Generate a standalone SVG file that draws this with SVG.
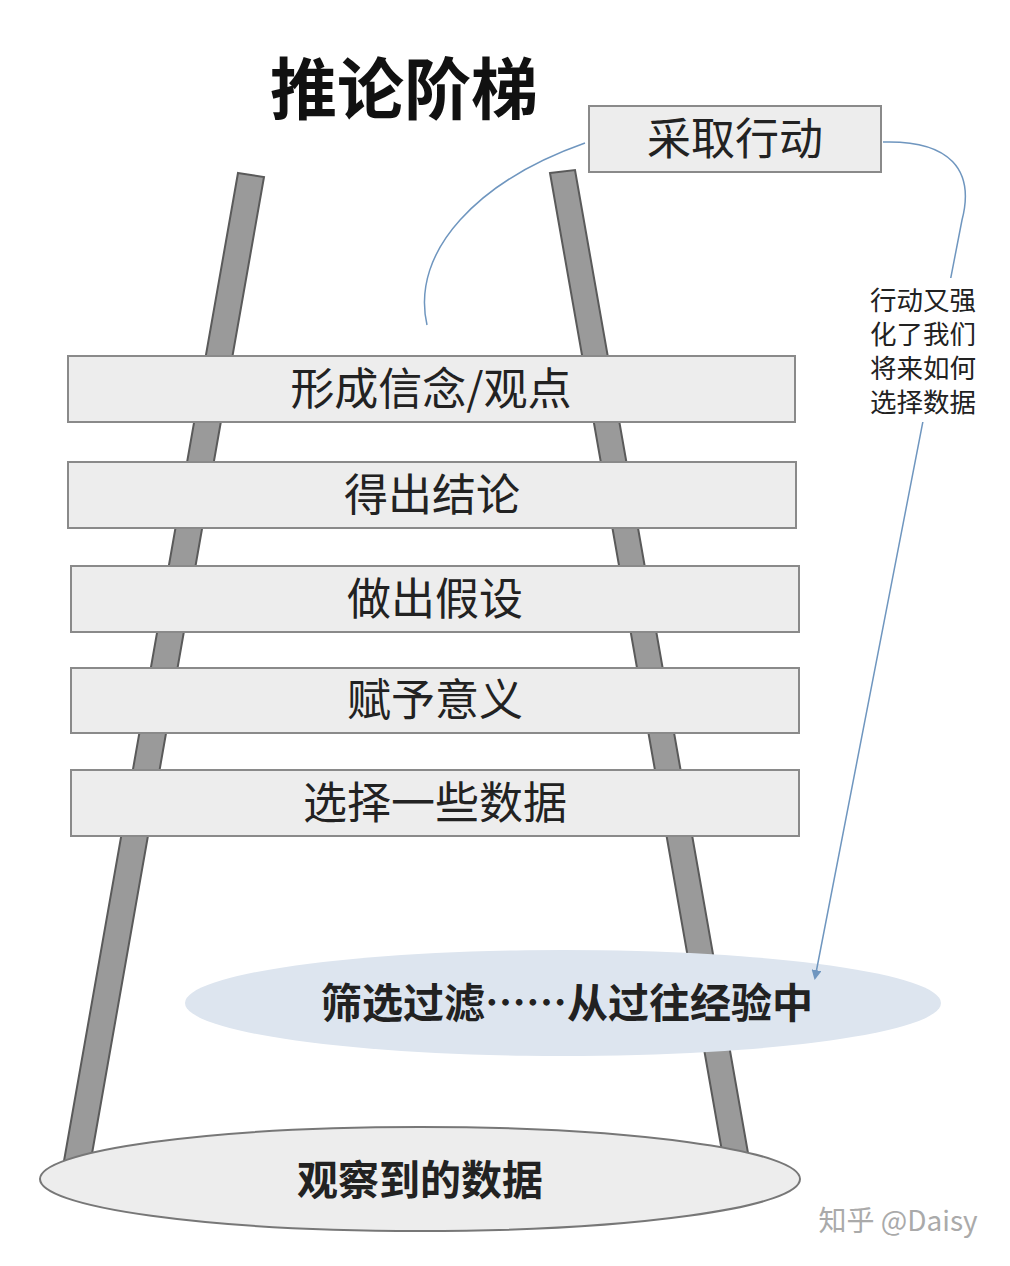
<svg xmlns="http://www.w3.org/2000/svg" width="1010" height="1266" viewBox="0 0 1010 1266">
<defs>
<style>
.rail{fill:#9a9a9a;stroke:#5a5a5a;stroke-width:2}
.rung{fill:#ededed;stroke:#8a8a8a;stroke-width:2}
.t{font-family:"Noto Sans CJK SC","Noto Sans",sans-serif;font-size:44px;fill:#222;text-anchor:middle}
.b{font-weight:bold;font-size:41px}
.s{font-family:"Noto Sans CJK SC",sans-serif;font-size:26.5px;fill:#222;text-anchor:middle}
.c{fill:none;stroke:#6f96bf;stroke-width:1.5}
</style>
<marker id="ah" markerWidth="10" markerHeight="10" refX="8" refY="5" orient="auto" markerUnits="userSpaceOnUse"><path d="M0,0 L10,5 L0,10 Z" fill="#6f96bf"/></marker>
</defs>
<rect width="1010" height="1266" fill="#fff"/>
<text class="t b" x="404" y="114" style="font-size:67px;fill:#111">推论阶梯</text>
<g id="rails">
<polygon class="rail" points="238,173 264,177 90,1165 64,1161"/>
<polygon class="rail" points="550,173 575,170 748,1153 723,1157"/>
</g>
<g id="n_action"><rect class="rung" x="589" y="106" width="292" height="66"/><text class="t" x="735" y="155">采取行动</text></g>
<g id="n1"><rect class="rung" x="68" y="356" width="727" height="66"/><text class="t" x="431" y="405">形成信念/观点</text></g>
<g id="n2"><rect class="rung" x="68" y="462" width="728" height="66"/><text class="t" x="432" y="511">得出结论</text></g>
<g id="n3"><rect class="rung" x="71" y="566" width="728" height="66"/><text class="t" x="435" y="615">做出假设</text></g>
<g id="n4"><rect class="rung" x="71" y="668" width="728" height="65"/><text class="t" x="435" y="716">赋予意义</text></g>
<g id="n5"><rect class="rung" x="71" y="770" width="728" height="66"/><text class="t" x="435" y="819">选择一些数据</text></g>
<g id="n_filter"><ellipse cx="563" cy="1003" rx="378" ry="53" fill="#dde5ef"/><text class="t b" x="567" y="1018">筛选过滤……从过往经验中</text></g>
<g id="n_obs"><ellipse cx="420" cy="1179" rx="380" ry="52" fill="#ededed" stroke="#777" stroke-width="2"/><text class="t b" x="420" y="1195">观察到的数据</text></g>
<g id="connectors">
<path class="c" d="M585,143 C480,180 410,250 427,325"/>
<path class="c" d="M883,142 C950,140 975,170 962,220 L815,978" marker-end="url(#ah)"/>
</g>
<g id="label"><rect x="858" y="278" width="132" height="144" fill="#fff"/>
<text class="s" x="923" y="310">行动又强</text><text class="s" x="923" y="344">化了我们</text><text class="s" x="923" y="378">将来如何</text><text class="s" x="923" y="412">选择数据</text></g>
<text x="898" y="1231" style="font-family:'Noto Sans CJK SC',sans-serif;font-size:28px;fill:#aaa;text-anchor:middle">知乎 @Daisy</text>
</svg>
